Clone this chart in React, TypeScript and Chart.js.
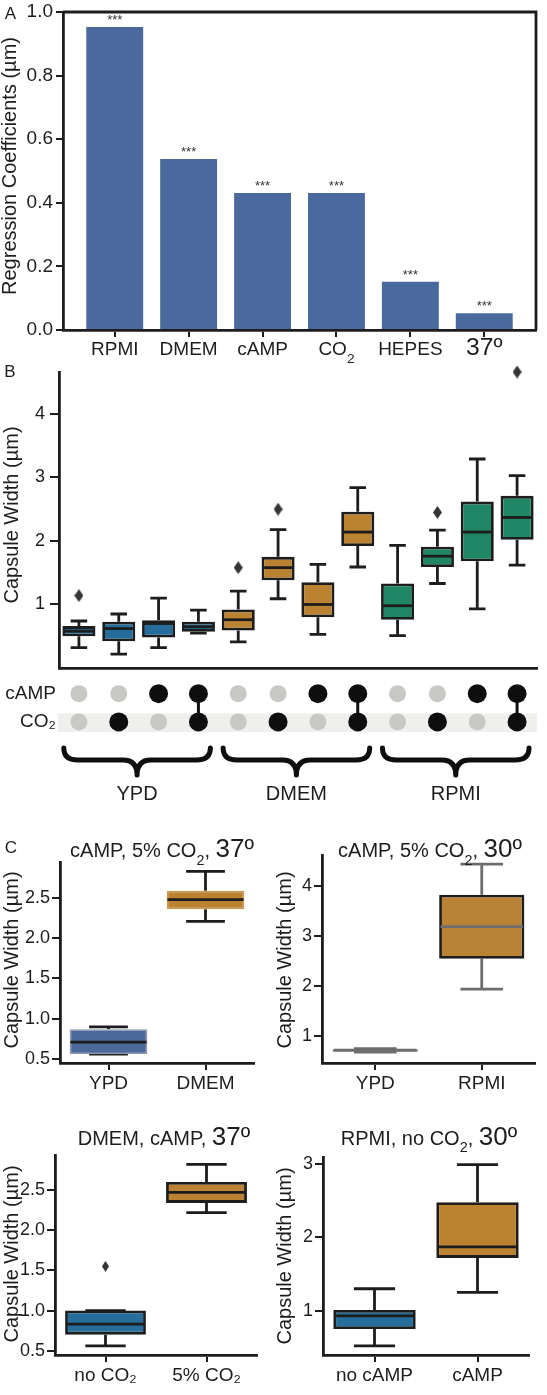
import React, { useEffect, useRef } from "react";
import { Chart, registerables } from "chart.js";

Chart.register(...registerables);

const FONT = "'Liberation Sans', Arial, Helvetica, sans-serif";
const INK = "#1d1d1d";

// ---------- Panel A: regression coefficients ----------
const coefLabels = ["RPMI", "DMEM", "cAMP", "CO₂", "HEPES", "37º"];
const coefValues = [0.953, 0.538, 0.431, 0.431, 0.152, 0.053];
const coefStars = ["***", "***", "***", "***", "***", "***"];
const coefTicks = [0, 0.2, 0.4, 0.6, 0.8, 1.0];

// ---------- Panel B: capsule width per condition ----------
const condMedium = ["YPD", "YPD", "YPD", "YPD", "DMEM", "DMEM", "DMEM", "DMEM", "RPMI", "RPMI", "RPMI", "RPMI"];
const condCAMP = [0, 0, 1, 1, 0, 0, 1, 1, 0, 0, 1, 1];
const condCO2 = [0, 1, 0, 1, 0, 1, 0, 1, 0, 1, 0, 1];
const bLow = [0.32, 0.22, 0.32, 0.55, 0.41, 1.09, 0.53, 1.59, 0.51, 1.33, 0.93, 1.62];
const bQ1 = [0.5, 0.42, 0.48, 0.57, 0.59, 1.38, 0.8, 1.92, 0.76, 1.59, 1.68, 2.02];
const bMedian = [0.58, 0.62, 0.7, 0.65, 0.76, 1.58, 1.0, 2.14, 0.98, 1.76, 2.14, 2.37];
const bQ3 = [0.66, 0.73, 0.75, 0.73, 0.92, 1.75, 1.35, 2.46, 1.33, 1.91, 2.62, 2.71];
const bHigh = [0.74, 0.85, 1.1, 0.91, 1.21, 2.18, 1.63, 2.84, 1.93, 2.17, 3.29, 3.03];
const bOutlierCond = [0, 4, 5, 9, 11];
const bOutlierValue = [1.14, 1.58, 2.5, 2.45, 4.66];
const bTicks = [1, 2, 3, 4];
const bRange = [0.0, 4.66];
const matrixRows = ["CO₂", "cAMP"];
const groupNames = ["YPD", "DMEM", "RPMI"];
const groupFirst = [0, 4, 8];
const groupLast = [3, 7, 11];

// ---------- Panel C ----------
const c1Title = "cAMP, 5% CO₂, 37º";
const c1Labels = ["YPD", "DMEM"];
const c1Low = [0.56, 2.21];
const c1Q1 = [0.56, 2.36];
const c1Median = [0.71, 2.48];
const c1Q3 = [0.87, 2.59];
const c1High = [0.9, 2.83];
const c1Ticks = [0.5, 1.0, 1.5, 2.0, 2.5];
const c1Range = [0.45, 2.947];

const c2Title = "cAMP, 5% CO₂, 30º";
const c2Labels = ["YPD", "RPMI"];
const c2Low = [0.67, 1.93];
const c2Q1 = [0.68, 2.54];
const c2Median = [0.71, 3.18];
const c2Q3 = [0.73, 3.82];
const c2High = [0.74, 4.43];
const c2Ticks = [1, 2, 3, 4];
const c2Range = [0.454, 4.614];

const c3Title = "DMEM, cAMP, 37º";
const c3Labels = ["no CO₂", "5% CO₂"];
const c3Low = [0.56, 2.22];
const c3Q1 = [0.7, 2.34];
const c3Median = [0.83, 2.47];
const c3Q3 = [1.0, 2.6];
const c3High = [1.0, 2.82];
const c3OutlierCat = [0];
const c3OutlierValue = [1.55];
const c3Ticks = [0.5, 1.0, 1.5, 2.0, 2.5];
const c3Range = [0.447, 2.936];

const c4Title = "RPMI, no CO₂, 30º";
const c4Labels = ["no cAMP", "cAMP"];
const c4Low = [0.52, 1.25];
const c4Q1 = [0.75, 1.72];
const c4Median = [0.93, 1.87];
const c4Q3 = [1.01, 2.48];
const c4High = [1.3, 2.99];
const c4Ticks = [1, 2, 3];
const c4Range = [0.397, 3.095];

// ---------- styles ----------
const BLUE = "#256d9a";
const ORANGE = "#bb8231";
const GREEN = "#1f8765";
const STEEL = "#4b699b";
const GREY = "#737373";
const mediumColor: Record<string, string> = { YPD: BLUE, DMEM: ORANGE, RPMI: GREEN };

// ---------- helpers ----------
type Seg = { t: string; k: "n" | "sub" | "big" };
function segs(text: string): Seg[] {
  const out: Seg[] = [];
  text.split(/(₂|\d+º)/).forEach((p) => {
    if (!p) return;
    if (p === "₂") out.push({ t: "2", k: "sub" });
    else if (/\d+º/.test(p)) out.push({ t: p, k: "big" });
    else out.push({ t: p, k: "n" });
  });
  return out;
}

function drawRich(ctx: CanvasRenderingContext2D, text: string, cx: number, base: number, size: number) {
  const parts = segs(text).map((s) => ({
    ...s,
    size: s.k === "sub" ? size * 0.72 : s.k === "big" ? size * 1.3 : size,
    w: 0,
  }));
  let total = 0;
  parts.forEach((p) => {
    ctx.font = `${p.size}px ${FONT}`;
    p.w = ctx.measureText(p.t).width;
    total += p.w;
  });
  let x = cx - total / 2;
  ctx.textAlign = "left";
  ctx.textBaseline = "alphabetic";
  parts.forEach((p) => {
    ctx.font = `${p.size}px ${FONT}`;
    ctx.fillText(p.t, x, base + (p.k === "sub" ? size * 0.4 : 0));
    x += p.w;
  });
}

function makeDiamond(w: number, h: number, color: string) {
  const c = document.createElement("canvas");
  c.width = w;
  c.height = h;
  const g = c.getContext("2d")!;
  g.fillStyle = color;
  g.beginPath();
  g.moveTo(w / 2, 0);
  g.lineTo(w, h / 2);
  g.lineTo(w / 2, h);
  g.lineTo(0, h / 2);
  g.closePath();
  g.fill();
  return c;
}

type Rect = { left: number; top: number; width: number; height: number };
type Area = { left: number; top: number; right: number; bottom: number };

function fixedLayout(canvas: Rect, area: Area) {
  return {
    padding: {
      left: 0,
      top: area.top - canvas.top,
      right: canvas.left + canvas.width - area.right,
      bottom: 0,
    },
    yWidth: area.left - canvas.left,
    xHeight: canvas.top + canvas.height - area.bottom,
  };
}

// ---------- box plot ----------
type BoxSpec = {
  canvas: Rect;
  area: Area;
  labels: string[];
  low: number[];
  q1: number[];
  median: number[];
  q3: number[];
  high: number[];
  fill: string[];
  edge: string[];
  edgeWidth: number;
  whisker: string[];
  medianColor: string[];
  lineWidth: number;
  range: number[];
  yTicks: number[];
  decimals: number;
  ySize: number;
  yTickLen: number;
  yPad: number;
  outCat: number[];
  outVal: number[];
  dw: number;
  dh: number;
  barPct: number;
  showX: boolean;
  xSize: number;
  xTickLen: number;
  xPad: number;
};

function boxParts(s: BoxSpec) {
  return {
    id: "boxParts",
    beforeDatasetsDraw(chart: any) {
      const meta = chart.getDatasetMeta(0);
      const y = chart.scales.y;
      const ctx = chart.ctx as CanvasRenderingContext2D;
      ctx.save();
      ctx.lineWidth = s.lineWidth;
      ctx.lineCap = "butt";
      s.low.forEach((lo, i) => {
        const bar = meta.data[i];
        const cx = bar.x;
        const cap = bar.width / 4;
        const pLo = y.getPixelForValue(lo);
        const pQ1 = y.getPixelForValue(s.q1[i]);
        const pQ3 = y.getPixelForValue(s.q3[i]);
        const pHi = y.getPixelForValue(s.high[i]);
        ctx.strokeStyle = s.whisker[i];
        ctx.beginPath();
        ctx.moveTo(cx, pLo);
        ctx.lineTo(cx, pQ1);
        ctx.moveTo(cx, pQ3);
        ctx.lineTo(cx, pHi);
        ctx.moveTo(cx - cap, pLo);
        ctx.lineTo(cx + cap, pLo);
        ctx.moveTo(cx - cap, pHi);
        ctx.lineTo(cx + cap, pHi);
        ctx.stroke();
      });
      ctx.restore();
    },
    afterDatasetsDraw(chart: any) {
      const meta = chart.getDatasetMeta(0);
      const y = chart.scales.y;
      const ctx = chart.ctx as CanvasRenderingContext2D;
      ctx.save();
      ctx.lineWidth = s.lineWidth;
      s.median.forEach((m, i) => {
        const bar = meta.data[i];
        const py = y.getPixelForValue(m);
        ctx.strokeStyle = s.medianColor[i];
        ctx.beginPath();
        ctx.moveTo(bar.x - bar.width / 2 + s.edgeWidth / 2, py);
        ctx.lineTo(bar.x + bar.width / 2 - s.edgeWidth / 2, py);
        ctx.stroke();
      });
      ctx.restore();
    },
  };
}

function buildBox(s: BoxSpec) {
  const L = fixedLayout(s.canvas, s.area);
  const diamond = s.outCat.length ? makeDiamond(s.dw, s.dh, "#353535") : undefined;
  return {
    type: "bar",
    data: {
      datasets: [
        {
          type: "bar",
          data: s.q1.map((v, i) => ({ x: i, y: [v, s.q3[i]] })),
          backgroundColor: s.fill,
          borderColor: s.edge,
          borderWidth: s.edgeWidth,
          borderSkipped: false,
          barPercentage: s.barPct,
          categoryPercentage: 1,
        },
        {
          type: "scatter",
          data: s.outCat.map((c, i) => ({ x: c, y: s.outVal[i] })),
          pointStyle: diamond,
          pointRadius: 6,
          clip: false,
        },
      ],
    },
    options: {
      responsive: false,
      animation: false,
      devicePixelRatio: 1,
      layout: { padding: L.padding },
      plugins: { legend: { display: false }, tooltip: { enabled: false } },
      scales: {
        x: {
          type: "linear",
          offset: false,
          min: -0.5,
          max: s.labels.length - 0.5,
          afterBuildTicks: (sc: any) => {
            sc.ticks = s.labels.map((_, i) => ({ value: i }));
          },
          afterFit: (sc: any) => {
            sc.height = L.xHeight;
            sc.paddingLeft = 0;
            sc.paddingRight = 0;
          },
          ticks: {
            display: s.showX,
            callback: (v: any) => s.labels[v],
            font: { family: FONT, size: s.xSize },
            color: INK,
            padding: s.xPad,
            maxRotation: 0,
            autoSkip: false,
          },
          grid: {
            display: s.showX,
            offset: false,
            drawOnChartArea: false,
            drawTicks: s.showX,
            tickLength: s.xTickLen,
            color: INK,
            lineWidth: 2,
          },
          border: { display: true, color: INK, width: 2.8 },
        },
        y: {
          type: "linear",
          min: s.range[0],
          max: s.range[1],
          afterBuildTicks: (sc: any) => {
            sc.ticks = s.yTicks.map((v) => ({ value: v }));
          },
          afterFit: (sc: any) => {
            sc.width = L.yWidth;
            sc.paddingTop = 0;
            sc.paddingBottom = 0;
          },
          ticks: {
            callback: (v: any) => Number(v).toFixed(s.decimals),
            font: { family: FONT, size: s.ySize },
            color: INK,
            padding: s.yPad,
          },
          grid: {
            display: true,
            drawOnChartArea: false,
            drawTicks: true,
            tickLength: s.yTickLen,
            color: INK,
            lineWidth: 2,
          },
          border: { display: true, color: INK, width: 2.8 },
        },
      },
    },
    plugins: [boxParts(s)],
  };
}

// ---------- Panel A ----------
const A_CANVAS: Rect = { left: 0, top: 0, width: 547, height: 370 };
const A_AREA: Area = { left: 63, top: 12, right: 536, bottom: 330 };

function buildA() {
  const L = fixedLayout(A_CANVAS, A_AREA);
  const decor = {
    id: "aDecor",
    afterDatasetsDraw(chart: any) {
      const ctx = chart.ctx as CanvasRenderingContext2D;
      const meta = chart.getDatasetMeta(0);
      ctx.save();
      ctx.fillStyle = "#333";
      ctx.font = `13px ${FONT}`;
      ctx.textAlign = "center";
      ctx.textBaseline = "alphabetic";
      meta.data.forEach((bar: any, i: number) => {
        ctx.fillText(coefStars[i], bar.x, bar.y - 3);
      });
      ctx.restore();
    },
    afterDraw(chart: any) {
      const ctx = chart.ctx as CanvasRenderingContext2D;
      const a = chart.chartArea;
      const x = chart.scales.x;
      ctx.save();
      ctx.strokeStyle = INK;
      ctx.lineWidth = 2.8;
      ctx.beginPath();
      ctx.moveTo(a.left, a.top);
      ctx.lineTo(a.right, a.top);
      ctx.lineTo(a.right, a.bottom);
      ctx.stroke();
      ctx.fillStyle = INK;
      coefLabels.forEach((lab, i) => {
        drawRich(ctx, lab, x.getPixelForValue(i), a.bottom + 25, 19);
      });
      ctx.restore();
    },
  };
  return {
    type: "bar",
    data: {
      datasets: [
        {
          data: coefValues.map((v, i) => ({ x: i, y: v })),
          backgroundColor: "#4a699c",
          barPercentage: 0.77,
          categoryPercentage: 1,
        },
      ],
    },
    options: {
      responsive: false,
      animation: false,
      devicePixelRatio: 1,
      layout: { padding: L.padding },
      plugins: { legend: { display: false }, tooltip: { enabled: false } },
      scales: {
        x: {
          type: "linear",
          offset: false,
          min: -0.7,
          max: coefLabels.length - 0.3,
          afterBuildTicks: (sc: any) => {
            sc.ticks = coefLabels.map((_, i) => ({ value: i }));
          },
          afterFit: (sc: any) => {
            sc.height = L.xHeight;
          },
          ticks: { display: false },
          grid: {
            display: true,
            offset: false,
            drawOnChartArea: false,
            drawTicks: true,
            tickLength: 7,
            color: INK,
            lineWidth: 2,
          },
          border: { display: true, color: INK, width: 2.8 },
        },
        y: {
          type: "linear",
          min: 0,
          max: 1.0,
          afterBuildTicks: (sc: any) => {
            sc.ticks = coefTicks.map((v) => ({ value: v }));
          },
          afterFit: (sc: any) => {
            sc.width = L.yWidth;
            sc.paddingTop = 0;
            sc.paddingBottom = 0;
          },
          ticks: {
            callback: (v: any) => Number(v).toFixed(1),
            font: { family: FONT, size: 19 },
            color: INK,
            padding: 3,
          },
          grid: {
            display: true,
            drawOnChartArea: false,
            drawTicks: true,
            tickLength: 7,
            color: INK,
            lineWidth: 2,
          },
          border: { display: true, color: INK, width: 2.8 },
        },
      },
    },
    plugins: [decor],
  };
}

// ---------- Panel B ----------
const B_CANVAS: Rect = { left: 0, top: 360, width: 547, height: 315 };
const B_AREA: Area = { left: 59, top: 372, right: 537, bottom: 668 };

function buildB() {
  const colors = condMedium.map((m) => mediumColor[m]);
  return buildBox({
    canvas: B_CANVAS,
    area: B_AREA,
    labels: condMedium.map((m, i) => `${m} ${condCAMP[i]}${condCO2[i]}`),
    low: bLow,
    q1: bQ1,
    median: bMedian,
    q3: bQ3,
    high: bHigh,
    fill: colors,
    edge: colors.map(() => INK),
    edgeWidth: 2.8,
    whisker: colors.map(() => INK),
    medianColor: colors.map(() => INK),
    lineWidth: 2.8,
    range: bRange,
    yTicks: bTicks,
    decimals: 0,
    ySize: 18,
    yTickLen: 9,
    yPad: 5,
    outCat: bOutlierCond,
    outVal: bOutlierValue,
    dw: 9,
    dh: 13,
    barPct: 0.83,
    showX: false,
    xSize: 18,
    xTickLen: 0,
    xPad: 0,
  });
}

// ---------- Matrix under panel B ----------
const M_CANVAS: Rect = { left: 0, top: 670, width: 547, height: 140 };

function buildMatrix() {
  const off: { x: number; y: number }[] = [];
  const on: { x: number; y: number }[] = [];
  condCAMP.forEach((v, i) => (v ? on : off).push({ x: i, y: 1 }));
  condCO2.forEach((v, i) => (v ? on : off).push({ x: i, y: 0 }));
  const deco = {
    id: "matrixDeco",
    beforeDatasetsDraw(chart: any) {
      const ctx = chart.ctx as CanvasRenderingContext2D;
      const a = chart.chartArea;
      const { x, y } = chart.scales;
      ctx.save();
      ctx.fillStyle = "#efefed";
      const t = y.getPixelForValue(0.3);
      const b = y.getPixelForValue(-0.36);
      ctx.fillRect(a.left - 1, t, a.right - a.left + 1, b - t);
      ctx.strokeStyle = "#0e0e0e";
      ctx.lineWidth = 3;
      condCAMP.forEach((c, i) => {
        if (c && condCO2[i]) {
          const px = x.getPixelForValue(i);
          ctx.beginPath();
          ctx.moveTo(px, y.getPixelForValue(1));
          ctx.lineTo(px, y.getPixelForValue(0));
          ctx.stroke();
        }
      });
      ctx.restore();
    },
    afterDraw(chart: any) {
      const ctx = chart.ctx as CanvasRenderingContext2D;
      const a = chart.chartArea;
      const x = chart.scales.x;
      const yTop = a.bottom + 12;
      const yMid = a.bottom + 24;
      const yTip = a.bottom + 39;
      ctx.save();
      ctx.strokeStyle = "#0e0e0e";
      ctx.lineWidth = 5;
      ctx.lineCap = "round";
      ctx.lineJoin = "round";
      groupNames.forEach((g, k) => {
        const x1 = x.getPixelForValue(groupFirst[k] - 0.38);
        const x2 = x.getPixelForValue(groupLast[k] + 0.3);
        const xm = (x1 + x2) / 2;
        const r = 14;
        ctx.beginPath();
        ctx.moveTo(x1, yTop);
        ctx.quadraticCurveTo(x1, yMid, x1 + r, yMid);
        ctx.lineTo(xm - r, yMid);
        ctx.quadraticCurveTo(xm, yMid, xm, yTip);
        ctx.quadraticCurveTo(xm, yMid, xm + r, yMid);
        ctx.lineTo(x2 - r, yMid);
        ctx.quadraticCurveTo(x2, yMid, x2, yTop);
        ctx.stroke();
        ctx.fillStyle = INK;
        ctx.font = `20px ${FONT}`;
        ctx.textAlign = "center";
        ctx.textBaseline = "alphabetic";
        ctx.fillText(g, xm, a.bottom + 64);
      });
      ctx.restore();
    },
  };
  return {
    type: "scatter",
    data: {
      datasets: [
        { data: off, pointRadius: 8.5, backgroundColor: "#c8c8c5", borderWidth: 0, clip: false },
        { data: on, pointRadius: 9.5, backgroundColor: "#0e0e0e", borderWidth: 0, clip: false },
      ],
    },
    options: {
      responsive: false,
      animation: false,
      devicePixelRatio: 1,
      layout: { padding: { left: 0, top: 2, right: 10, bottom: 74 } },
      plugins: { legend: { display: false }, tooltip: { enabled: false } },
      scales: {
        x: { type: "linear", min: -0.5, max: condCAMP.length - 0.5, display: false },
        y: {
          type: "linear",
          min: -0.5,
          max: 1.5,
          afterBuildTicks: (sc: any) => {
            sc.ticks = matrixRows.map((_, i) => ({ value: i }));
          },
          afterFit: (sc: any) => {
            sc.width = 59;
            sc.paddingTop = 0;
            sc.paddingBottom = 0;
          },
          ticks: {
            callback: (v: any) => matrixRows[v],
            font: { family: FONT, size: 19 },
            color: INK,
            padding: 3,
          },
          grid: { display: false, drawTicks: false },
          border: { display: false },
        },
      },
    },
    plugins: [deco],
  };
}

// ---------- Panel C ----------
function cSpec(
  canvas: Rect,
  area: Area,
  labels: string[],
  low: number[],
  q1: number[],
  median: number[],
  q3: number[],
  high: number[],
  range: number[],
  ticks: number[],
  decimals: number,
  style: { fill: string[]; edge: string[]; edgeWidth: number; whisker: string[]; med: string[] },
  outCat: number[] = [],
  outVal: number[] = []
): BoxSpec {
  return {
    canvas,
    area,
    labels,
    low,
    q1,
    median,
    q3,
    high,
    fill: style.fill,
    edge: style.edge,
    edgeWidth: style.edgeWidth,
    whisker: style.whisker,
    medianColor: style.med,
    lineWidth: 2.8,
    range,
    yTicks: ticks,
    decimals,
    ySize: 18,
    yTickLen: 8,
    yPad: 2,
    outCat,
    outVal,
    dw: 7,
    dh: 11,
    barPct: 0.8,
    showX: true,
    xSize: 19,
    xTickLen: 7,
    xPad: 2,
  };
}

const C1_CANVAS: Rect = { left: 0, top: 850, width: 273, height: 250 };
const C2_CANVAS: Rect = { left: 273, top: 843, width: 274, height: 257 };
const C3_CANVAS: Rect = { left: 0, top: 1143, width: 273, height: 252 };
const C4_CANVAS: Rect = { left: 273, top: 1145, width: 274, height: 250 };

const buildC1 = () =>
  buildBox(
    cSpec(C1_CANVAS, { left: 60, top: 862, right: 254, bottom: 1063 }, c1Labels, c1Low, c1Q1, c1Median, c1Q3, c1High, c1Range, c1Ticks, 1, {
      fill: [STEEL, ORANGE],
      edge: ["#8d96a6", "#c99a52"],
      edgeWidth: 1.5,
      whisker: [INK, INK],
      med: [INK, INK],
    })
  );
const buildC2 = () =>
  buildBox(
    cSpec(C2_CANVAS, { left: 322, top: 855, right: 535, bottom: 1063 }, c2Labels, c2Low, c2Q1, c2Median, c2Q3, c2High, c2Range, c2Ticks, 0, {
      fill: [GREY, "#b98234"],
      edge: [GREY, INK],
      edgeWidth: 2.8,
      whisker: ["#6d6d6d", "#6d6d6d"],
      med: ["#6d6d6d", "#6d6d6d"],
    })
  );
const buildC3 = () =>
  buildBox(
    cSpec(
      C3_CANVAS,
      { left: 55, top: 1155, right: 257, bottom: 1355 },
      c3Labels,
      c3Low,
      c3Q1,
      c3Median,
      c3Q3,
      c3High,
      c3Range,
      c3Ticks,
      1,
      { fill: [BLUE, ORANGE], edge: [INK, INK], edgeWidth: 2.8, whisker: [INK, INK], med: [INK, INK] },
      c3OutlierCat,
      c3OutlierValue
    )
  );
const buildC4 = () =>
  buildBox(
    cSpec(C4_CANVAS, { left: 323, top: 1157, right: 529, bottom: 1355 }, c4Labels, c4Low, c4Q1, c4Median, c4Q3, c4High, c4Range, c4Ticks, 0, {
      fill: [BLUE, ORANGE],
      edge: [INK, INK],
      edgeWidth: 2.8,
      whisker: [INK, INK],
      med: [INK, INK],
    })
  );

// ---------- components ----------
function ChartBox(props: { rect: Rect; build: () => any }) {
  const { rect, build } = props;
  const ref = useRef<HTMLCanvasElement | null>(null);
  useEffect(() => {
    const el = ref.current;
    if (!el) return;
    const chart = new Chart(el, build() as any);
    return () => chart.destroy();
  }, []);
  return (
    <canvas
      ref={ref}
      width={rect.width}
      height={rect.height}
      style={{ position: "absolute", left: rect.left, top: rect.top, width: rect.width, height: rect.height }}
    />
  );
}

function Label(props: { x: number; y: number; size: number; text: string; rotate?: boolean }) {
  const { x, y, size, text, rotate } = props;
  return (
    <div
      style={{
        position: "absolute",
        left: x,
        top: y,
        transform: `translate(-50%, -50%)${rotate ? " rotate(-90deg)" : ""}`,
        fontFamily: FONT,
        fontSize: size,
        lineHeight: 1,
        whiteSpace: "nowrap",
        color: INK,
      }}
    >
      {segs(text).map((p, i) =>
        p.k === "sub" ? (
          <span key={i} style={{ fontSize: size * 0.72, lineHeight: 0, position: "relative", top: size * 0.38 }}>
            {p.t}
          </span>
        ) : p.k === "big" ? (
          <span key={i} style={{ fontSize: size * 1.3, lineHeight: 0 }}>
            {p.t}
          </span>
        ) : (
          <span key={i}>{p.t}</span>
        )
      )}
    </div>
  );
}

export default function App() {
  return (
    <div
      style={{
        position: "absolute",
        left: 0,
        top: 0,
        width: 547,
        height: 1395,
        background: "#ffffff",
        overflow: "hidden",
      }}
    >
      <ChartBox rect={A_CANVAS} build={buildA} />
      <ChartBox rect={B_CANVAS} build={buildB} />
      <ChartBox rect={M_CANVAS} build={buildMatrix} />
      <ChartBox rect={C1_CANVAS} build={buildC1} />
      <ChartBox rect={C2_CANVAS} build={buildC2} />
      <ChartBox rect={C3_CANVAS} build={buildC3} />
      <ChartBox rect={C4_CANVAS} build={buildC4} />

      <Label x={10.5} y={12.5} size={17} text="A" />
      <Label x={10} y={371} size={17} text="B" />
      <Label x={11} y={847} size={17} text="C" />

      <Label x={8.5} y={166} size={20} text="Regression Coefficients (µm)" rotate />
      <Label x={10.5} y={515} size={20} text="Capsule Width (µm)" rotate />
      <Label x={11} y={960} size={20} text="Capsule Width (µm)" rotate />
      <Label x={284} y={960} size={20} text="Capsule Width (µm)" rotate />
      <Label x={11} y={1254} size={20} text="Capsule Width (µm)" rotate />
      <Label x={284} y={1256} size={20} text="Capsule Width (µm)" rotate />

      <Label x={162} y={850} size={20} text={c1Title} />
      <Label x={430} y={850} size={20} text={c2Title} />
      <Label x={164} y={1138} size={20} text={c3Title} />
      <Label x={429} y={1137.5} size={20} text={c4Title} />
    </div>
  );
}
